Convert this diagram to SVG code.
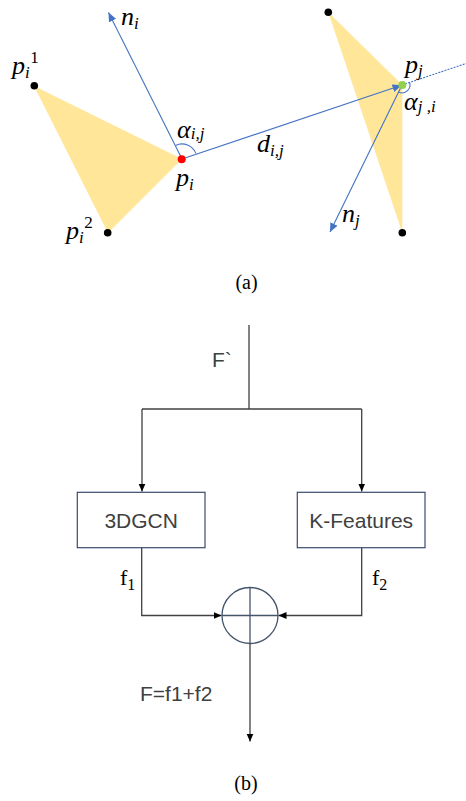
<svg xmlns="http://www.w3.org/2000/svg" width="466" height="801" viewBox="0 0 466 801">
<style>
.math{font-family:"Liberation Serif","Times New Roman",serif;font-style:italic;fill:#000;font-size:26px}
.sub{font-size:17px}
.up{font-style:normal;font-size:17px}
.cap{font-family:"Liberation Serif","Times New Roman",serif;font-size:20px;fill:#000}
.sans{font-family:"Liberation Sans",Arial,sans-serif;font-size:21px;fill:#404040}
.roman{font-family:"Liberation Serif","Times New Roman",serif;font-size:22px;fill:#000}
.blue{stroke:#4472C4;stroke-width:1.1;fill:none}
.wire{stroke:#404040;stroke-width:1.3;fill:none}
.box{fill:#fff;stroke:#3B4A6B;stroke-width:1.2}
.tri{fill:#FFE699}
</style>
<defs>
<marker id="ab" markerUnits="userSpaceOnUse" markerWidth="10" markerHeight="8" refX="9" refY="4" orient="auto">
<path d="M0,0 L9,4 L0,8 z" fill="#4472C4"/>
</marker>
<marker id="ak" markerUnits="userSpaceOnUse" markerWidth="9" markerHeight="8" refX="8" refY="4" orient="auto">
<path d="M0,0.5 L8,4 L0,7.5 z" fill="#000"/>
</marker>
</defs>

<!-- (a) -->
<g id="tri-i">
<polygon class="tri" points="34,86 182,159 108,233"/>
<circle cx="34.3" cy="85.7" r="3.8" fill="#000"/>
<circle cx="107.7" cy="232.7" r="3.8" fill="#000"/>
</g>
<g id="tri-j">
<polygon class="tri" points="328.3,12.3 402.3,85 402.3,232.7"/>
<circle cx="328.3" cy="12.3" r="3.8" fill="#000"/>
<circle cx="402.3" cy="232.7" r="3.8" fill="#000"/>
</g>

<g id="vectors">
<line class="blue" x1="182" y1="159" x2="108.5" y2="12.5" marker-end="url(#ab)"/>
<line class="blue" x1="182" y1="159" x2="401.5" y2="85.3" marker-end="url(#ab)"/>
<line class="blue" x1="402" y1="85" x2="466" y2="63.5" stroke-dasharray="2,1.2"/>
<line class="blue" x1="402" y1="85" x2="330" y2="232" marker-end="url(#ab)"/>
<path class="blue" d="M175.6,145.4 A15,15 0 0 1 195.9,153.4"/>
<path class="blue" d="M409.6,82.5 A8,8 0 0 1 398.5,92.1"/>
</g>

<g id="pi">
<circle cx="181.7" cy="159.3" r="4" fill="#FF0000"/>
</g>
<g id="pj">
<circle cx="402.3" cy="85" r="4" fill="#92D050"/>
</g>

<g id="labels-a">
<text class="math" x="121" y="25">n<tspan class="sub" dy="4">i</tspan></text>
<text class="math" x="12" y="74">p<tspan class="sub" dy="4">i</tspan><tspan class="up" dx="0.5" dy="-15">1</tspan></text>
<text class="math" x="66" y="239">p<tspan class="sub" dy="4">i</tspan><tspan class="up" dx="0.5" dy="-15">2</tspan></text>
<text class="math" x="176" y="186">p<tspan class="sub" dy="4">i</tspan></text>
<text class="math" x="177" y="138">α<tspan class="sub" dy="1">i,j</tspan></text>
<text class="math" x="257" y="152">d<tspan class="sub" dy="4">i,j</tspan></text>
<text class="math" x="405" y="73">p<tspan class="sub" dy="3">j</tspan></text>
<text class="math" x="404" y="110">α<tspan class="sub" dy="2">j ,i</tspan></text>
<text class="math" x="342" y="222">n<tspan class="sub" dy="4">j</tspan></text>
<text class="cap" x="246.5" y="289" text-anchor="middle">(a)</text>
</g>

<!-- (b) -->
<g id="connectors">
<path class="wire" d="M249,325 V409"/>
<path class="wire" d="M142,409 H361.7"/>
<path class="wire" d="M142,409 V491.5" marker-end="url(#ak)"/>
<path class="wire" d="M361.7,409 V491.5" marker-end="url(#ak)"/>
<path class="wire" d="M141.7,548 V615.5 H221.5" marker-end="url(#ak)"/>
<path class="wire" d="M361.7,548 V615.5 H278.5" marker-end="url(#ak)"/>
<path class="wire" d="M250,643 V741.5" marker-end="url(#ak)"/>
</g>

<g id="node-3dgcn">
<rect class="box" x="77.3" y="492.3" width="127.7" height="55.4"/>
<text class="sans" x="141.2" y="528" text-anchor="middle">3DGCN</text>
</g>
<g id="node-kfeatures">
<rect class="box" x="297.3" y="492.3" width="127.7" height="55.4"/>
<text class="sans" x="361.2" y="528" text-anchor="middle">K-Features</text>
</g>
<g id="node-sum">
<circle cx="250" cy="615.5" r="28" fill="#fff" stroke="#44546A" stroke-width="1.3"/>
<line x1="222" y1="615.5" x2="278" y2="615.5" stroke="#44546A" stroke-width="1.3"/>
<line x1="250" y1="587.5" x2="250" y2="643.5" stroke="#44546A" stroke-width="1.3"/>
</g>

<g id="labels-b">
<text class="sans" x="212" y="367">F`</text>
<text class="roman" x="120" y="585">f<tspan font-size="16" dy="5">1</tspan></text>
<text class="roman" x="372" y="585">f<tspan font-size="16" dy="5">2</tspan></text>
<text class="sans" x="140" y="701" font-size="22">F=f1+f2</text>
<text class="cap" x="246" y="790" text-anchor="middle">(b)</text>
</g>
</svg>
